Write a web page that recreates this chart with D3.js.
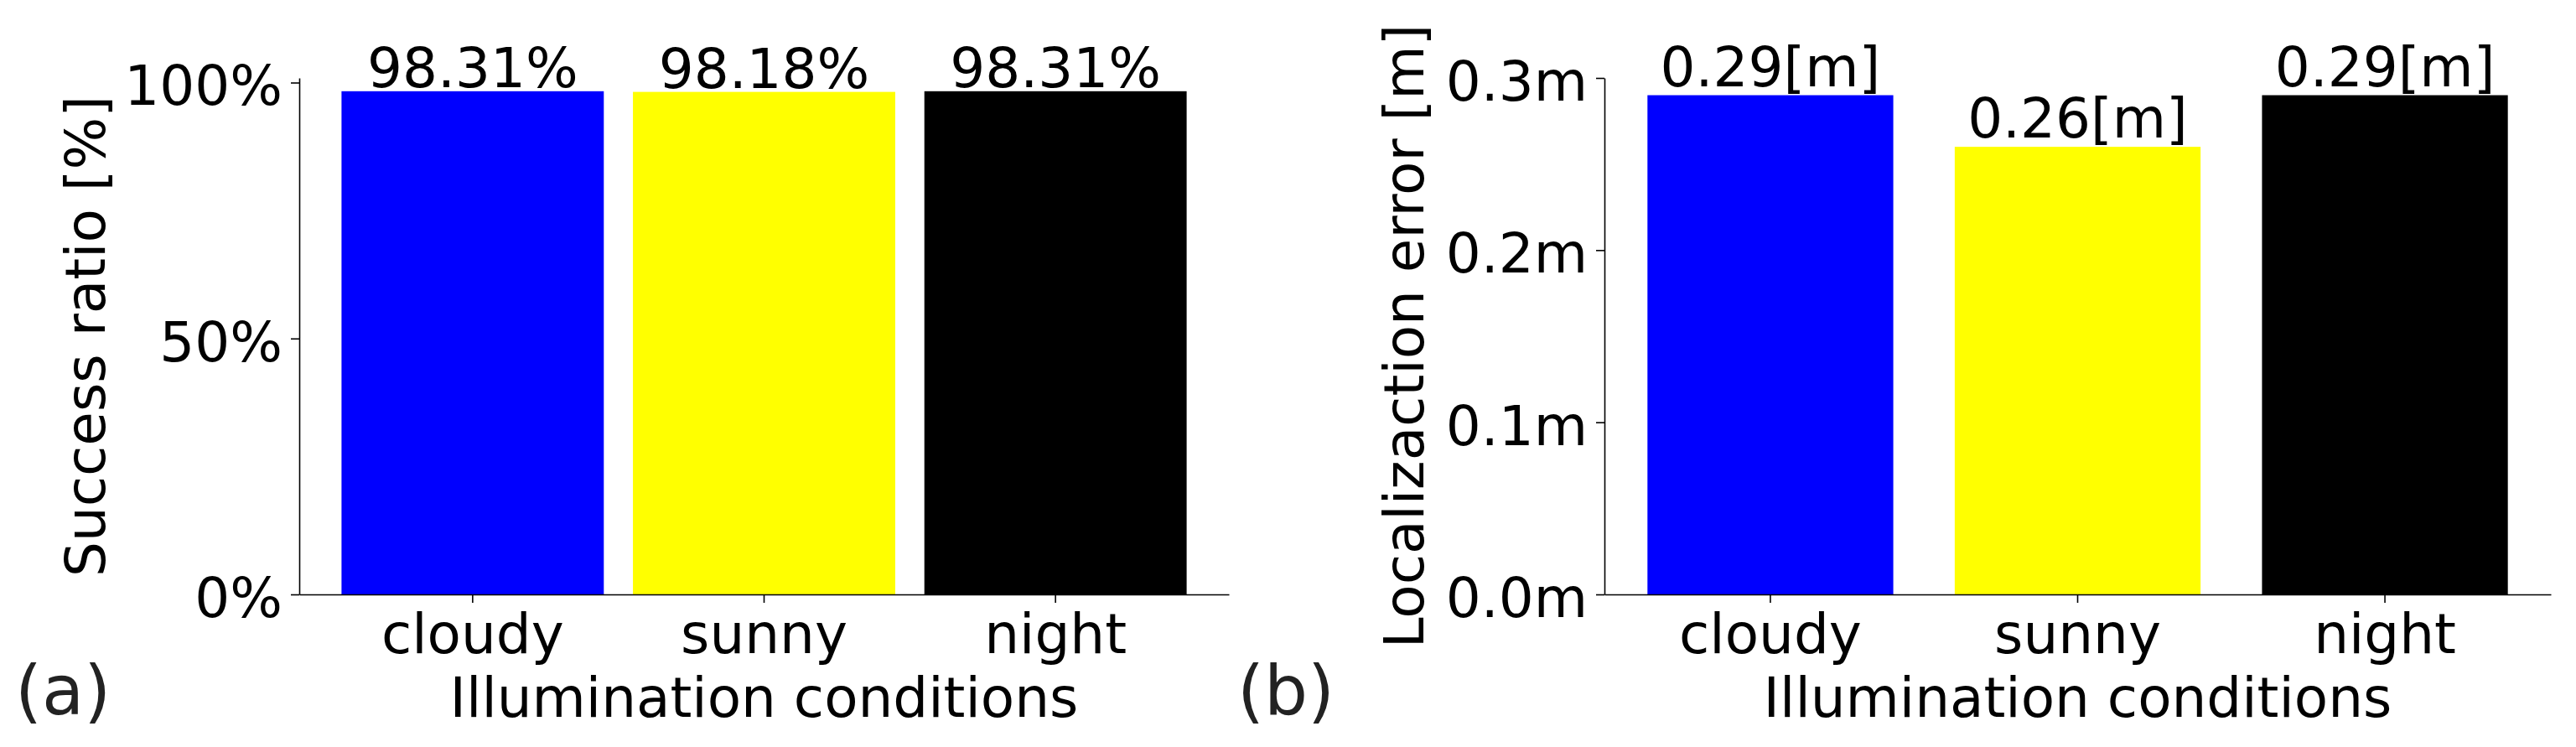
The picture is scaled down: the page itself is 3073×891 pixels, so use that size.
<!DOCTYPE html>
<html>
<head>
<meta charset="utf-8">
<script src="https://cdn.jsdelivr.net/npm/d3@7"></script>
<style>
  body { margin: 0; background: #fff; }
  svg { display: block; font-family: "DejaVu Sans", sans-serif; }
  .axis path, .axis line { stroke: #000; stroke-width: 1.6; }
  .axis text { fill: #000; font-size: 66px; }
</style>
</head>
<body>
<div id="chart"></div>
<script>
// data
var conditions = ["cloudy", "sunny", "night"];
var barColors = ["#0000ff", "#ffff00", "#000000"];
var successRatio = [98.31, 98.18, 98.31];
var successTicks = [0, 50, 100];
var locError = [0.29, 0.26, 0.29];
var errorTicks = [0.0, 0.1, 0.2, 0.3];

var width = 3073, height = 891;
var plotTop = 93, plotBottom = 709;
var fontSize = 66;

var svg = d3.select('#chart').append('svg')
  .attr('width', width)
  .attr('height', height);

svg.append('rect').attr('width', width).attr('height', height).attr('fill', '#fff');

var drawPanel = function(p) {
  var x, y, g, xAxis, yAxis;
  x = d3.scaleBand().domain(conditions).range([p.left, p.right])
    .paddingInner(p.padInner).paddingOuter(p.padOuter);
  y = d3.scaleLinear().domain(p.yDomain).range([plotBottom, plotTop]);

  g = svg.append('g').attr('class', 'panel');

  g.selectAll('rect.bar').data(p.values).enter().append('rect')
    .attr('class', 'bar')
    .attr('x', function(d, i) { return x(conditions[i]); })
    .attr('y', function(d) { return y(d); })
    .attr('width', x.bandwidth())
    .attr('height', function(d) { return plotBottom - y(d); })
    .attr('fill', function(d, i) { return barColors[i]; });

  g.selectAll('text.value').data(p.values).enter().append('text')
    .attr('class', 'value')
    .attr('x', function(d, i) { return x(conditions[i]) + x.bandwidth() / 2; })
    .attr('y', function(d) { return y(d) - p.labelGap; })
    .attr('text-anchor', 'middle')
    .attr('font-size', fontSize)
    .text(p.valueText);

  yAxis = d3.axisLeft(y).tickValues(p.ticks).tickFormat(p.tickText)
    .tickSize(10).tickSizeOuter(0).tickPadding(10);
  g.append('g').attr('class', 'axis y')
    .attr('transform', 'translate(' + p.left + ',0)')
    .call(yAxis)
    .selectAll('text').attr('dy', '0.4em');

  xAxis = d3.axisBottom(x).tickSize(10).tickSizeOuter(0).tickPadding(10);
  g.append('g').attr('class', 'axis x')
    .attr('transform', 'translate(0,' + plotBottom + ')')
    .call(xAxis)
    .selectAll('text').attr('dy', 0).attr('y', 70);

  g.selectAll('.axis').attr('font-family', null).attr('font-size', null);

  g.append('text')
    .attr('transform', 'translate(' + p.yLabelX + ',' + (plotTop + plotBottom) / 2 + ') rotate(-90)')
    .attr('text-anchor', 'middle')
    .attr('font-size', fontSize)
    .text(p.yLabel);

  g.append('text')
    .attr('x', (p.left + p.right) / 2)
    .attr('y', 855)
    .attr('text-anchor', 'middle')
    .attr('font-size', fontSize)
    .text('Illumination conditions');

  g.append('text')
    .attr('x', p.tagX)
    .attr('y', 852)
    .attr('font-size', 82)
    .attr('fill', '#222')
    .text(p.tag);
};

drawPanel({
  left: 357, right: 1466, padInner: 0.1, padOuter: 0.145,
  yDomain: [0, 100.9], values: successRatio, ticks: successTicks,
  tickText: function(d) { return d + '%'; },
  valueText: function(d) { return d.toFixed(2) + '%'; },
  labelGap: 5, yLabel: 'Success ratio [%]', yLabelX: 125,
  tag: '(a)', tagX: 18
});

drawPanel({
  left: 1914, right: 3043, padInner: 0.2, padOuter: 0.14,
  yDomain: [0, 0.3], values: locError, ticks: errorTicks,
  tickText: function(d) { return d.toFixed(1) + 'm'; },
  valueText: function(d) { return d.toFixed(2) + '[m]'; },
  labelGap: 11, yLabel: 'Localizaction error [m]', yLabelX: 1698,
  tag: '(b)', tagX: 1476
});
</script>
</body>
</html>
